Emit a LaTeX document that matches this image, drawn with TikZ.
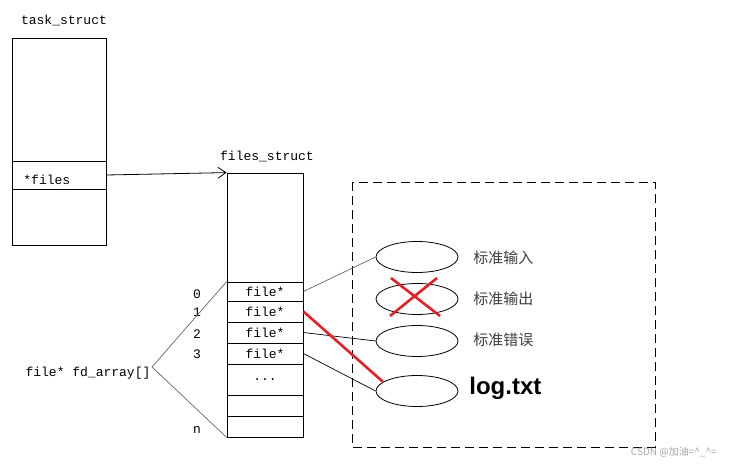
\documentclass[tikz,border=0pt]{standalone}
\usepackage{fontspec}
\setmonofont{Liberation Mono}
\newfontfamily\cjk{Noto Sans CJK SC}
\newfontfamily\logfont{Liberation Sans}
\usetikzlibrary{arrows.meta,shapes.geometric}
\definecolor{xred}{RGB}{228,32,40}
\tikzset{
  txt/.style={font=\fontsize{13}{13}\selectfont\ttfamily,inner sep=0pt},
  cell/.style={draw,minimum width=76pt,inner sep=0pt,font=\fontsize{13}{13}\selectfont\ttfamily},
  ell/.style={draw,ellipse,minimum width=82pt,minimum height=31pt,inner sep=0pt},
  zh/.style={font=\fontsize{15}{15}\selectfont\cjk,text=black!75,anchor=west,inner sep=0pt},
  link/.style={draw=black!60,line width=0.7pt},
  cross/.style={draw=xred,line width=2.6pt}
}
\begin{document}
\begin{tikzpicture}[x=1pt,y=-1pt,line width=0.8pt]
\useasboundingbox (0,0) rectangle (730,465);
% task_struct
\node[txt] (tasklbl) at (64,20) {task\_struct};
\node[cell,minimum width=94pt,minimum height=123pt] (ttop) at (59,99.5) {};
\node[cell,minimum width=94pt,minimum height=28pt] (tfiles) at (59,175) {};
\node[cell,minimum width=94pt,minimum height=56pt] (tbot) at (59,217) {};
\node[txt,anchor=west] at (23,180) {*files};
% files_struct
\node[txt] (fslbl) at (267,156) {files\_struct};
\node[cell,minimum height=109pt] (fstop) at (265,227.5) {};
\node[cell,minimum height=19pt] (f0) at (265,291.5) {file*};
\node[cell,minimum height=21pt] (f1) at (265,311.5) {file*};
\node[cell,minimum height=21pt] (f2) at (265,332.5) {file*};
\node[cell,minimum height=21pt] (f3) at (265,353.5) {file*};
\node[cell,minimum height=31pt] (fdots) at (265,379.5) {...};
\node[cell,minimum height=21pt] (f5) at (265,405.5) {};
\node[cell,minimum height=21pt] (fn) at (265,426.5) {};
\draw[-{Straight Barb[length=8pt,width=11pt]}] (tfiles.east) -- (fstop.north west);
% indices
\foreach \i/\y in {0/294,1/312,2/334,3/354,n/430}
  \node[txt] (idx\i) at (197,\y) {\i};
\node[txt] (fdarr) at (88,373) {file* fd\_array[]};
\coordinate (fdtip) at (152,367);
\draw[link] (fdtip) -- (f0.north west);
\draw[link] (fdtip) -- (fn.south west);
% open files
\draw[dash pattern=on 9pt off 5pt,line width=1pt] (352,182) rectangle (655,447);
\node[ell] (e1) at (417,257) {};
\node[ell] (e2) at (417,299) {};
\node[ell] (e3) at (417,341) {};
\node[ell] (e4) at (417,391) {};
\node[zh] (l1) at (473,258) {标准输入};
\node[zh] (l2) at (473,299) {标准输出};
\node[zh] (l3) at (473,340) {标准错误};
\node[font=\fontsize{24}{24}\selectfont\logfont\bfseries,anchor=west,inner sep=0pt] (l4) at (469,388) {log.txt};
\draw[link] (f0.east) -- (e1.west);
\draw[line width=0.7pt] (f2.east) -- (e3.west);
\draw[line width=0.7pt] (f3.east) -- (e4.west);
\draw[cross] (f1.east) -- (e4.165);
\draw[cross] ([shift={(-26,-21)}]e2.center) -- ([shift={(23,17)}]e2.center);
\draw[cross] ([shift={(20,-21)}]e2.center) -- ([shift={(-27,17)}]e2.center);
% watermark
\node[font=\fontsize{10}{10}\selectfont\cjk,text=black!35,anchor=east,inner sep=0pt] (wm) at (717,452) {CSDN @加油=\textasciicircum\_\textasciicircum=};
\end{tikzpicture}
\end{document}
